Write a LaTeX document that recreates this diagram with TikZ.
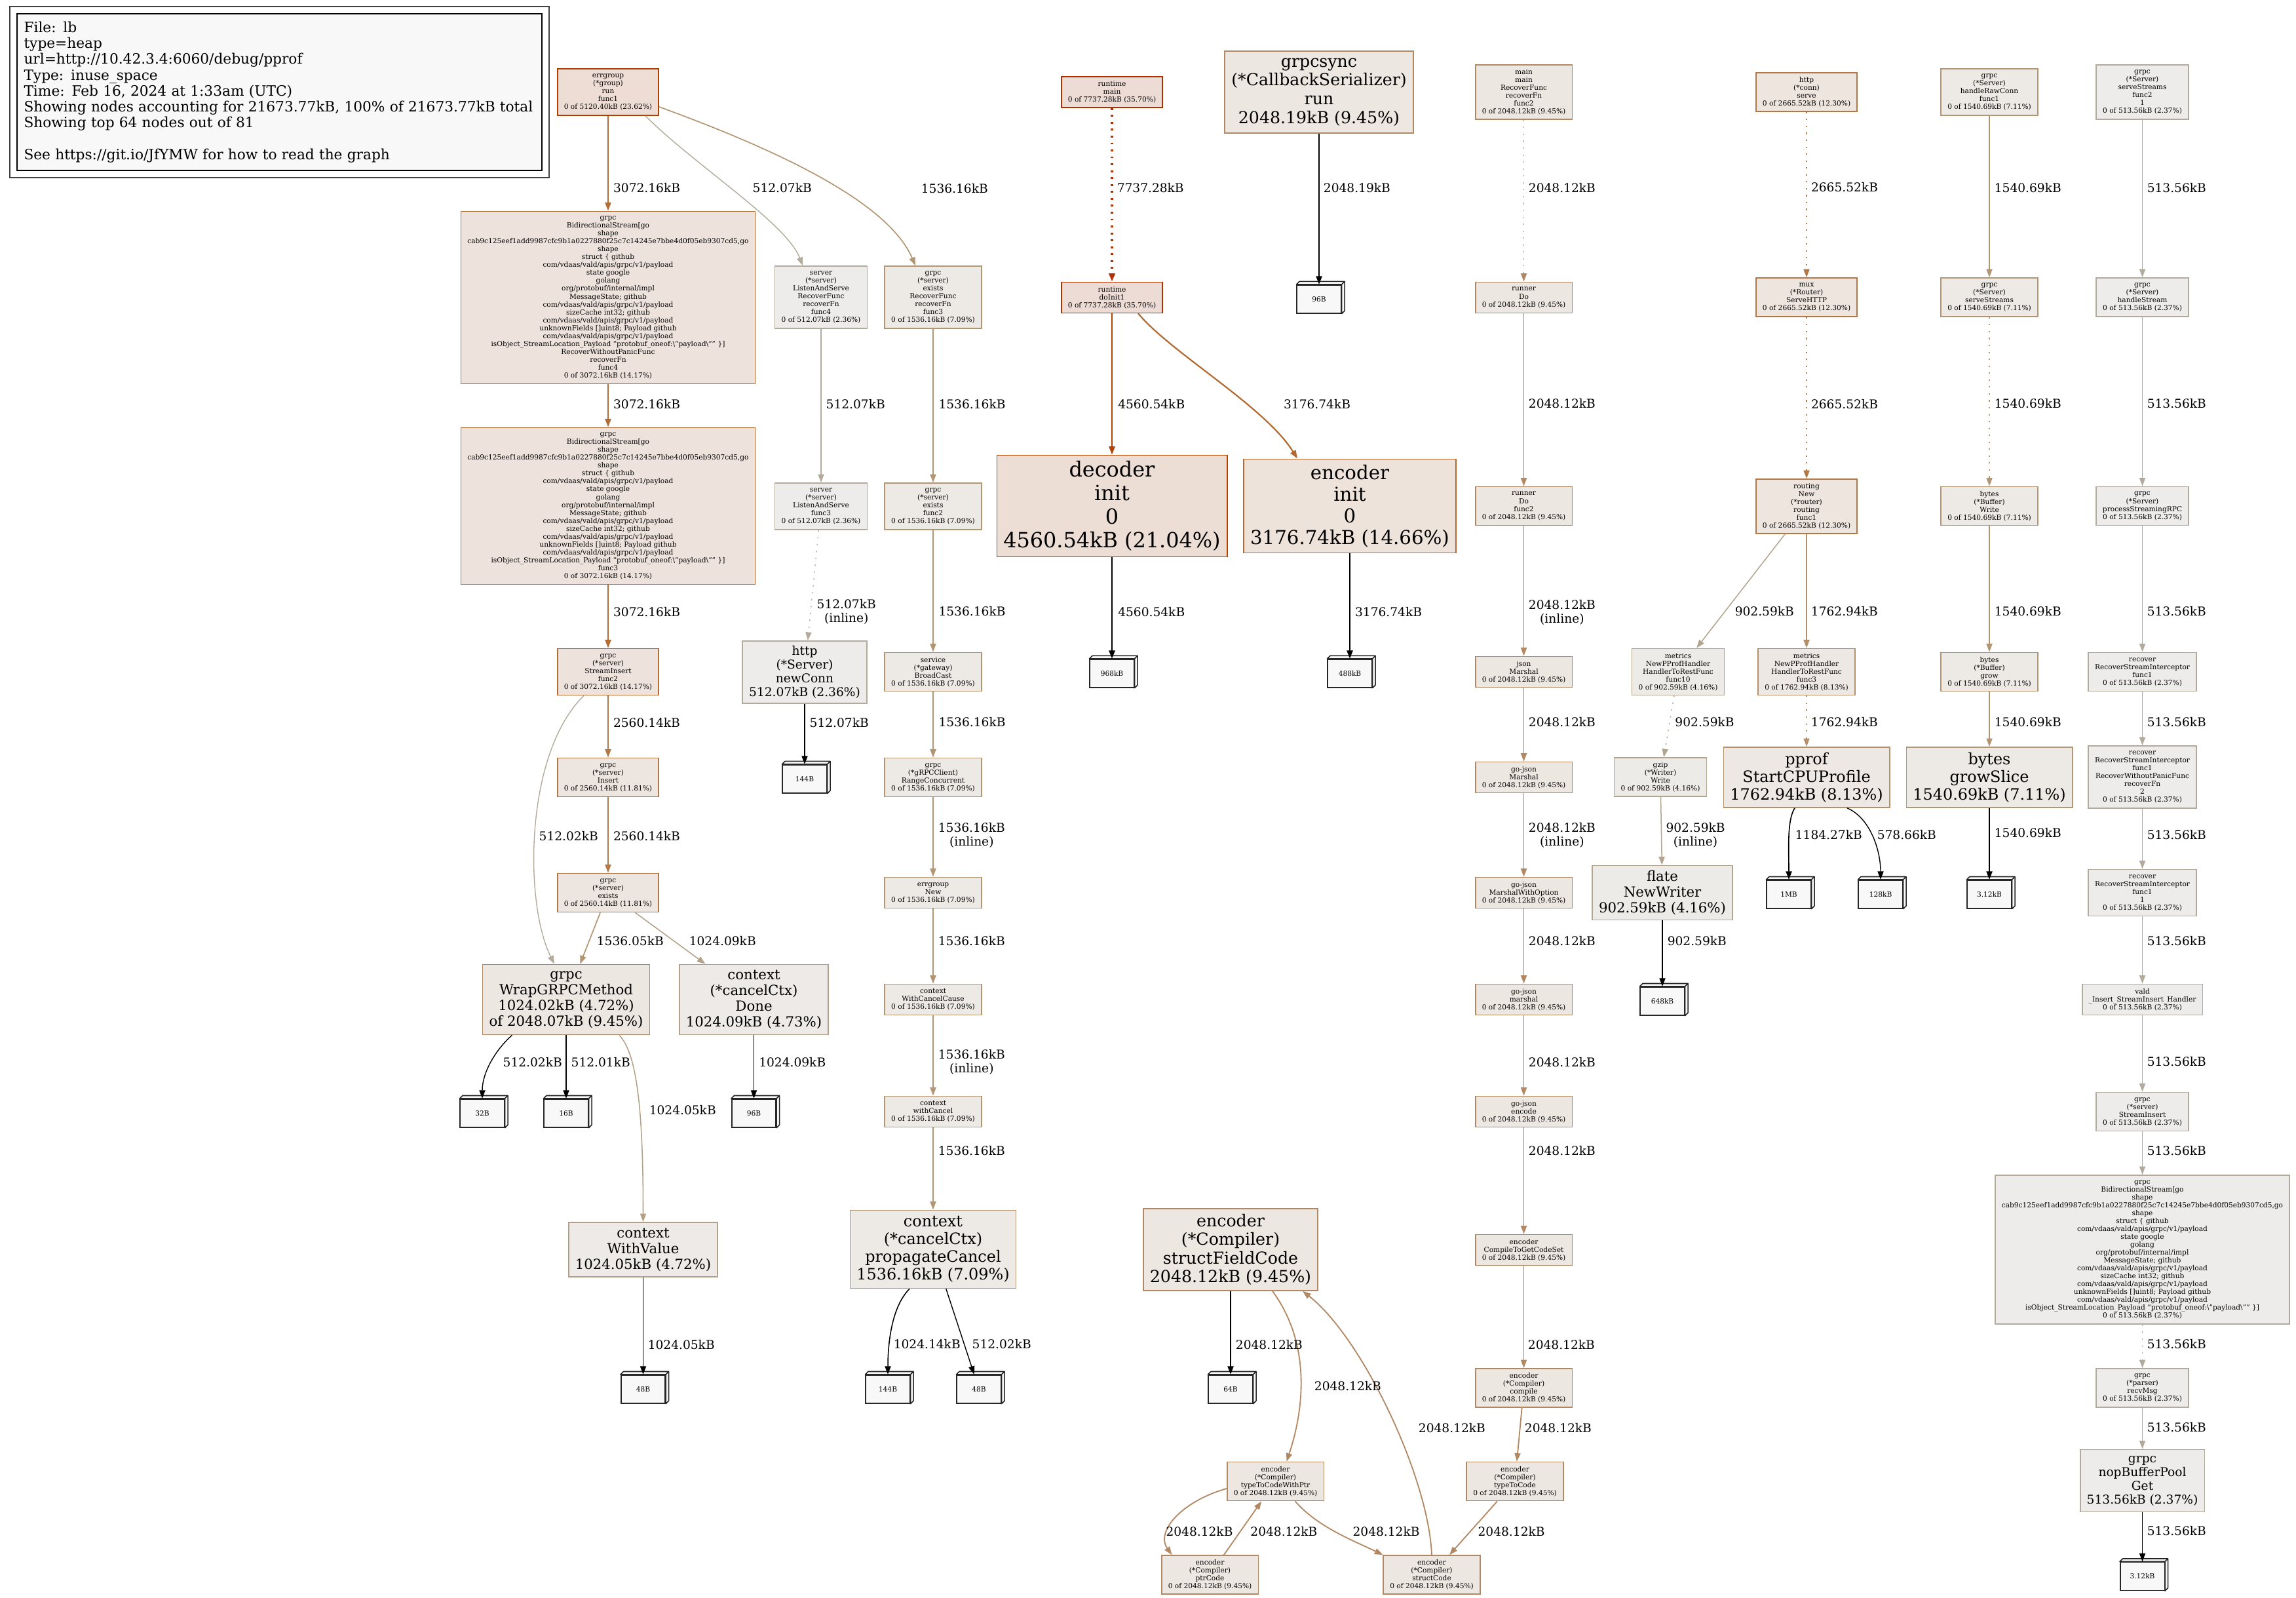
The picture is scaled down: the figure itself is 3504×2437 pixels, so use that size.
\documentclass[tikz,border=0pt]{standalone}
\usepackage{fontspec}
\setmainfont{DejaVu Serif}
\usepackage{xcolor}
\usetikzlibrary{arrows.meta,calc}

% font size in graphviz units
\newcommand{\fsz}[1]{\fontsize{\fpeval{#1*0.378}pt}{\fpeval{#1*0.4268}pt}\selectfont}

\definecolor{bg357}{HTML}{EDDBD5} \definecolor{fg357}{HTML}{B22F00}
\definecolor{bg236}{HTML}{EDDDD5} \definecolor{fg236}{HTML}{B23E00}
\definecolor{bg210}{HTML}{EDDED5} \definecolor{fg210}{HTML}{B24200}
\definecolor{bg147}{HTML}{EDE3DB} \definecolor{fg147}{HTML}{B2682F}
\definecolor{bg142}{HTML}{EDE3DC} \definecolor{fg142}{HTML}{B26C34}
\definecolor{bg123}{HTML}{EDE5DE} \definecolor{fg123}{HTML}{B27744}
\definecolor{bg118}{HTML}{EDE5DF} \definecolor{fg118}{HTML}{B27A49}
\definecolor{bg945}{HTML}{EDE7E1} \definecolor{fg945}{HTML}{B28862}
\definecolor{bg813}{HTML}{EDE8E3} \definecolor{fg813}{HTML}{B29069}
\definecolor{bg710}{HTML}{EDE9E4} \definecolor{fg710}{HTML}{B29573}
\definecolor{bg472}{HTML}{EDEAE7} \definecolor{fg472}{HTML}{B2A188}
\definecolor{bg416}{HTML}{EDEBE8} \definecolor{fg416}{HTML}{B2A48D}
\definecolor{bg237}{HTML}{EDECEA} \definecolor{fg237}{HTML}{B2AB9D}
\definecolor{leafbg}{HTML}{F8F8F8}

\tikzset{
  fn/.style={draw, align=center, line width=0.45pt, inner xsep=0.1cm, inner ysep=0pt,
    font=\fsz{8}, minimum height=#1*0.12cm+0.11cm},
  bigfn/.style 2 args={draw, align=center, line width=0.45pt, inner xsep=0.1cm, inner ysep=0pt,
    font=\fsz{#1}, minimum height=#2*#1*0.015cm+0.11cm},
  c/.style={fill=bg#1, draw=fg#1},
  leaf/.style={draw=black!85, fill=leafbg, line width=0.45pt, minimum width=0.675cm,
    minimum height=0.43cm, inner sep=0pt, font=\fsz{8}},
  leafside/.style={draw=black!85, fill=leafbg, line width=0.45pt, line join=round},
  legendbox/.style={draw=black, fill=leafbg, line width=0.5pt, font=\fontsize{6.17pt}{6.89pt}\selectfont,
    align=left, text width=7.8cm, inner xsep=0.1025cm, minimum height=2.29cm},
  e/.style={draw=fg#1, -{Triangle[length=3.6pt,width=2.6pt]}},
  le/.style={draw=black, -{Triangle[length=3.6pt,width=2.6pt]}},
  resid/.style={dash pattern=on 0.6pt off 2.4pt},
  lbl/.style={anchor=west, inner sep=0pt, font=\fsz{14}, align=center}
}

% box3d leaf: name, x, y, text
\newcommand{\heapleaf}[4]{%
  \node[leaf] (#1) at ({#2},{#3+2.25}) {#4};
  \filldraw[leafside] (#1.north west) -- ++(4.5,-4.5) -| ([shift={(4.5,-4.5)}]#1.south east)
    -- (#1.south east) -- (#1.north east) -- cycle (#1.north east) -- ++(4.5,-4.5);
}

\newcommand{\bidilines}{grpc\\BidirectionalStream[go\\shape\\cab9c125eef1add9987cfc9b1a0227880f25c7c14245e7bbe4d0f05eb9307cd5,go\\shape\\struct \{ github\\com/vdaas/vald/apis/grpc/v1/payload\\state google\\golang\\org/protobuf/internal/impl\\MessageState; github\\com/vdaas/vald/apis/grpc/v1/payload\\sizeCache int32; github\\com/vdaas/vald/apis/grpc/v1/payload\\unknownFields []uint8; Payload github\\com/vdaas/vald/apis/grpc/v1/payload\\isObject\_StreamLocation\_Payload "protobuf\_oneof:\textbackslash"payload\textbackslash"" \}]}

\begin{document}
\begin{tikzpicture}[x=0.01cm, y=-0.01cm]
\useasboundingbox (0,0) rectangle (3504,2437);

% legend
\node[legendbox] (legend) at (426.75,140.5) {File: lb\\type=heap\\url=http://10.42.3.4:6060/debug/pprof\\Type: inuse\_space\\Time: Feb 16, 2024 at 1:33am (UTC)\\Showing nodes accounting for 21673.77kB, 100\% of 21673.77kB total\\Showing top 64 nodes out of 81\\[6.89pt]See https://git.io/JfYMW for how to read the graph};
\draw[black!75, line width=0.6pt] ($(legend.north west)+(-10,-10.3)$) rectangle ($(legend.south east)+(10,10.7)$);

% StreamInsert column
\node[fn=5, c=236] (errgroup) at (928,140.5) {errgroup\\(*group)\\run\\func1\\0 of 5120.40kB (23.62\%)};
\node[fn=21, c=142] (bidiA) at (928,454) {\bidilines\\RecoverWithoutPanicFunc\\recoverFn\\func4\\0 of 3072.16kB (14.17\%)};
\node[fn=19, c=142] (bidiB) at (928,772) {\bidilines\\func3\\0 of 3072.16kB (14.17\%)};
\node[fn=5, c=142] (sinsert) at (928,1025) {grpc\\(*server)\\StreamInsert\\func2\\0 of 3072.16kB (14.17\%)};
\node[fn=4, c=118] (insert) at (928,1186) {grpc\\(*server)\\Insert\\0 of 2560.14kB (11.81\%)};
\node[fn=4, c=118] (exists) at (928,1362) {grpc\\(*server)\\exists\\0 of 2560.14kB (11.81\%)};
\node[bigfn={16}{4}, c=945] (wrap) at (864,1525) {grpc\\WrapGRPCMethod\\1024.02kB (4.72\%)\\of 2048.07kB (9.45\%)};
\node[bigfn={16}{4}, c=472] (done) at (1150.5,1525) {context\\(*cancelCtx)\\Done\\1024.09kB (4.73\%)};
\node[bigfn={16}{3}, c=472] (withvalue) at (981.5,1906.5) {context\\WithValue\\1024.05kB (4.72\%)};
\heapleaf{b32}{736}{1696}{32B}
\heapleaf{b16}{864}{1696}{16B}
\heapleaf{b96a}{1150.5}{1696}{96B}
\heapleaf{b48a}{981.5}{2117}{48B}

% ListenAndServe column
\node[fn=7, c=237] (lasfunc4) at (1253,453.5) {server\\(*server)\\ListenAndServe\\RecoverFunc\\recoverFn\\func4\\0 of 512.07kB (2.36\%)};
\node[fn=5, c=237] (lasfunc3) at (1253,772.5) {server\\(*server)\\ListenAndServe\\func3\\0 of 512.07kB (2.36\%)};
\node[bigfn={14}{4}, c=237] (newconn) at (1228,1025.5) {http\\(*Server)\\newConn\\512.07kB (2.36\%)};
\heapleaf{b144a}{1228}{1186}{144B}

% exists / broadcast column
\node[fn=7, c=710] (existsfunc3) at (1424,453.5) {grpc\\(*server)\\exists\\RecoverFunc\\recoverFn\\func3\\0 of 1536.16kB (7.09\%)};
\node[fn=5, c=710] (existsfunc2) at (1424,772.5) {grpc\\(*server)\\exists\\func2\\0 of 1536.16kB (7.09\%)};
\node[fn=4, c=710] (broadcast) at (1424,1025) {service\\(*gateway)\\BroadCast\\0 of 1536.16kB (7.09\%)};
\node[fn=4, c=710] (rangeconc) at (1424,1186) {grpc\\(*gRPCClient)\\RangeConcurrent\\0 of 1536.16kB (7.09\%)};
\node[fn=3, c=710] (egnew) at (1424,1362) {errgroup\\New\\0 of 1536.16kB (7.09\%)};
\node[fn=3, c=710] (wccause) at (1424,1525) {context\\WithCancelCause\\0 of 1536.16kB (7.09\%)};
\node[fn=3, c=710] (withcancel) at (1424,1696) {context\\withCancel\\0 of 1536.16kB (7.09\%)};
\node[bigfn={18}{4}, c=710] (propcancel) at (1424,1906) {context\\(*cancelCtx)\\propagateCancel\\1536.16kB (7.09\%)};
\heapleaf{b144b}{1355}{2117}{144B}
\heapleaf{b48b}{1494}{2117}{48B}

% runtime init
\node[fn=3, c=357] (rtmain) at (1697,140.5) {runtime\\main\\0 of 7737.28kB (35.70\%)};
\node[fn=3, c=357] (doinit) at (1697,454) {runtime\\doInit1\\0 of 7737.28kB (35.70\%)};
\node[bigfn={24}{4}, c=210] (decinit) at (1697,772) {decoder\\init\\0\\4560.54kB (21.04\%)};
\node[bigfn={22}{4}, c=147] (encinit) at (2060,772) {encoder\\init\\0\\3176.74kB (14.66\%)};
\heapleaf{b968}{1697}{1025}{968kB}
\heapleaf{b488}{2060}{1025}{488kB}
\node[bigfn={19}{4}, c=945] (grpcsync) at (2013,140.5) {grpcsync\\(*CallbackSerializer)\\run\\2048.19kB (9.45\%)};
\heapleaf{b96b}{2013}{454}{96B}

% json encoder column
\node[fn=6, c=945] (mainrec) at (2325.5,140.5) {main\\main\\RecoverFunc\\recoverFn\\func2\\0 of 2048.12kB (9.45\%)};
\node[fn=3, c=945] (runnerdo) at (2325.5,454) {runner\\Do\\0 of 2048.12kB (9.45\%)};
\node[fn=4, c=945] (runnerfunc2) at (2325.5,772) {runner\\Do\\func2\\0 of 2048.12kB (9.45\%)};
\node[fn=3, c=945] (jsonmarshal) at (2325.5,1025) {json\\Marshal\\0 of 2048.12kB (9.45\%)};
\node[fn=3, c=945] (gojson) at (2325.5,1186) {go-json\\Marshal\\0 of 2048.12kB (9.45\%)};
\node[fn=3, c=945] (marshalopt) at (2325.5,1362) {go-json\\MarshalWithOption\\0 of 2048.12kB (9.45\%)};
\node[fn=3, c=945] (gojsonm) at (2325.5,1525) {go-json\\marshal\\0 of 2048.12kB (9.45\%)};
\node[fn=3, c=945] (gojsonenc) at (2325.5,1696) {go-json\\encode\\0 of 2048.12kB (9.45\%)};
\node[fn=3, c=945] (cgcs) at (2325.5,1907) {encoder\\CompileToGetCodeSet\\0 of 2048.12kB (9.45\%)};
\node[fn=4, c=945] (compile) at (2325.5,2117.5) {encoder\\(*Compiler)\\compile\\0 of 2048.12kB (9.45\%)};
\node[fn=4, c=945] (typetocode) at (2312,2260) {encoder\\(*Compiler)\\typeToCode\\0 of 2048.12kB (9.45\%)};
\node[fn=4, c=945] (structcode) at (2185,2402.5) {encoder\\(*Compiler)\\structCode\\0 of 2048.12kB (9.45\%)};
\node[fn=4, c=945] (ttcwptr) at (1946.5,2260) {encoder\\(*Compiler)\\typeToCodeWithPtr\\0 of 2048.12kB (9.45\%)};
\node[fn=4, c=945] (ptrcode) at (1846.5,2402.5) {encoder\\(*Compiler)\\ptrCode\\0 of 2048.12kB (9.45\%)};
\node[bigfn={19}{4}, c=945] (sfc) at (1878,1906.5) {encoder\\(*Compiler)\\structFieldCode\\2048.12kB (9.45\%)};
\heapleaf{b64}{1878}{2117}{64B}

% http / pprof column
\node[fn=4, c=123] (httpserve) at (2757,140.5) {http\\(*conn)\\serve\\0 of 2665.52kB (12.30\%)};
\node[fn=4, c=123] (muxserve) at (2757,453.5) {mux\\(*Router)\\ServeHTTP\\0 of 2665.52kB (12.30\%)};
\node[fn=6, c=123] (routingnew) at (2757,772.5) {routing\\New\\(*router)\\routing\\func1\\0 of 2665.52kB (12.30\%)};
\node[fn=5, c=416] (hfunc10) at (2561,1025) {metrics\\NewPProfHandler\\HandlerToRestFunc\\func10\\0 of 902.59kB (4.16\%)};
\node[fn=5, c=813] (hfunc3) at (2757,1025) {metrics\\NewPProfHandler\\HandlerToRestFunc\\func3\\0 of 1762.94kB (8.13\%)};
\node[fn=4, c=416] (gzipwrite) at (2534,1185.5) {gzip\\(*Writer)\\Write\\0 of 902.59kB (4.16\%)};
\node[bigfn={18}{3}, c=813] (startcpu) at (2757,1186) {pprof\\StartCPUProfile\\1762.94kB (8.13\%)};
\node[bigfn={16}{3}, c=416] (flate) at (2537,1362) {flate\\NewWriter\\902.59kB (4.16\%)};
\heapleaf{b648}{2537}{1525}{648kB}
\heapleaf{b1mb}{2730}{1362}{1MB}
\heapleaf{b128k}{2870}{1362}{128kB}

% bytes column
\node[fn=5, c=710] (rawconn) at (3036,140.5) {grpc\\(*Server)\\handleRawConn\\func1\\0 of 1540.69kB (7.11\%)};
\node[fn=4, c=710] (servestreams) at (3036,453.5) {grpc\\(*Server)\\serveStreams\\0 of 1540.69kB (7.11\%)};
\node[fn=4, c=710] (bufwrite) at (3036,772) {bytes\\(*Buffer)\\Write\\0 of 1540.69kB (7.11\%)};
\node[fn=4, c=710] (bufgrow) at (3036,1025) {bytes\\(*Buffer)\\grow\\0 of 1540.69kB (7.11\%)};
\node[bigfn={18}{3}, c=710] (growslice) at (3036,1186) {bytes\\growSlice\\1540.69kB (7.11\%)};
\heapleaf{b312a}{3036}{1362}{3.12kB}

% stream server column
\node[fn=6, c=237] (ss2) at (3269.5,140.5) {grpc\\(*Server)\\serveStreams\\func2\\1\\0 of 513.56kB (2.37\%)};
\node[fn=4, c=237] (handlestream) at (3269.5,453.5) {grpc\\(*Server)\\handleStream\\0 of 513.56kB (2.37\%)};
\node[fn=4, c=237] (procrpc) at (3269.5,772) {grpc\\(*Server)\\processStreamingRPC\\0 of 513.56kB (2.37\%)};
\node[fn=4, c=237] (rsi1) at (3269.5,1025) {recover\\RecoverStreamInterceptor\\func1\\0 of 513.56kB (2.37\%)};
\node[fn=7, c=237] (rsi2) at (3269.5,1185.5) {recover\\RecoverStreamInterceptor\\func1\\RecoverWithoutPanicFunc\\recoverFn\\2\\0 of 513.56kB (2.37\%)};
\node[fn=5, c=237] (rsi3) at (3269.5,1362) {recover\\RecoverStreamInterceptor\\func1\\1\\0 of 513.56kB (2.37\%)};
\node[fn=3, c=237] (vald) at (3269.5,1525) {vald\\\_Insert\_StreamInsert\_Handler\\0 of 513.56kB (2.37\%)};
\node[fn=4, c=237] (sinsert2) at (3269.5,1696) {grpc\\(*server)\\StreamInsert\\0 of 513.56kB (2.37\%)};
\node[fn=18, c=237] (bidiC) at (3269.5,1906.5) {\bidilines\\0 of 513.56kB (2.37\%)};
\node[fn=4, c=237] (recvmsg) at (3269.5,2117.5) {grpc\\(*parser)\\recvMsg\\0 of 513.56kB (2.37\%)};
\node[bigfn={14}{4}, c=237] (nopget) at (3269.5,2259) {grpc\\nopBufferPool\\Get\\513.56kB (2.37\%)};
\heapleaf{b312b}{3269.5}{2402.5}{3.12kB}

% edges: StreamInsert column
\draw[e=142, line width=0.61pt] (errgroup) -- (bidiA) node[lbl] (l1) at (935,287) {3072.16kB};
\draw[e=237, line width=0.4pt] ($(errgroup.south)+(57,0)$) .. controls +(75,75) and +(-25,-65) .. ($(lasfunc4.north)+(-28,0)$) node[lbl] (l2) at (1148,287) {512.07kB};
\draw[e=710, line width=0.48pt] ($(errgroup.east)+(0,22.5)$) .. controls +(150,55) and +(-45,-105) .. ($(existsfunc3.north)+(-27,0)$) node[lbl] (l3) at (1405,288) {1536.16kB};
\draw[e=142, line width=0.61pt] (bidiA) -- (bidiB) node[lbl] (l4) at (935,617) {3072.16kB};
\draw[e=142, line width=0.61pt] (bidiB) -- (sinsert) node[lbl] (l5) at (935,934) {3072.16kB};
\draw[e=118, line width=0.57pt] (sinsert) -- (insert) node[lbl] (l6) at (935,1103) {2560.14kB};
\draw[e=237, line width=0.4pt] ($(sinsert.south)+(-37,0)$) .. controls +(-91,89) and +(-46,-92) .. ($(wrap.north)+(-18,0)$) node[lbl] (l7) at (822,1276) {512.02kB};
\draw[e=118, line width=0.57pt] (insert) -- (exists) node[lbl] (l8) at (935,1276) {2560.14kB};
\draw[e=710, line width=0.48pt] (exists) -- (wrap) node[lbl] (l9) at (910,1436) {1536.05kB};
\draw[e=472, line width=0.44pt] (exists) -- (done) node[lbl] (l10) at (1051,1436) {1024.09kB};
\draw[le, line width=0.4pt] ($(wrap.south)+(-82.5,0)$) .. controls +(-25,22) and +(0,-40) .. (b32.north) node[lbl] (l11) at (767,1621) {512.02kB};
\draw[le, line width=0.4pt] (wrap) -- (b16) node[lbl] (l12) at (871,1621) {512.01kB};
\draw[e=472, line width=0.44pt] ($(wrap.south)+(81,0)$) .. controls +(30,30) and +(0,-150) .. (withvalue.north) node[lbl] (l13) at (990,1694) {1024.05kB};
\draw[le, line width=0.44pt] (done) -- (b96a) node[lbl] (l14) at (1157.5,1621) {1024.09kB};
\draw[le, line width=0.44pt] (withvalue) -- (b48a) node[lbl] (l15) at (988,2052) {1024.05kB};

% edges: ListenAndServe column
\draw[e=237, line width=0.4pt] (lasfunc4) -- (lasfunc3) node[lbl] (l16) at (1260,617) {512.07kB};
\draw[e=237, resid, line width=0.4pt] (lasfunc3) -- (newconn) node[lbl] (l17) at (1246,933.5) {512.07kB\\(inline)};
\draw[le, line width=0.4pt] (newconn) -- (b144a) node[lbl] (l18) at (1235,1103) {512.07kB};

% edges: exists / broadcast column
\draw[e=710, line width=0.48pt] (existsfunc3) -- (existsfunc2) node[lbl] (l19) at (1431.7,617) {1536.16kB};
\draw[e=710, line width=0.48pt] (existsfunc2) -- (broadcast) node[lbl] (l20) at (1431.7,933) {1536.16kB};
\draw[e=710, line width=0.48pt] (broadcast) -- (rangeconc) node[lbl] (l21) at (1431.7,1102) {1536.16kB};
\draw[e=710, line width=0.48pt] (rangeconc) -- (egnew) node[lbl] (l22) at (1431,1274.5) {1536.16kB\\(inline)};
\draw[e=710, line width=0.48pt] (egnew) -- (wccause) node[lbl] (l23) at (1431,1436) {1536.16kB};
\draw[e=710, line width=0.48pt] (wccause) -- (withcancel) node[lbl] (l24) at (1431,1620.5) {1536.16kB\\(inline)};
\draw[e=710, line width=0.48pt] (withcancel) -- (propcancel) node[lbl] (l25) at (1431,1756) {1536.16kB};
\draw[le, line width=0.44pt] ($(propcancel.south)+(-36,0)$) .. controls +(-28,28) and +(0,-45) .. (b144b.north) node[lbl] (l26) at (1363,2051) {1024.14kB};
\draw[le, line width=0.4pt] (propcancel) -- (b48b) node[lbl] (l27) at (1483,2051) {512.02kB};

% edges: runtime init
\draw[e=357, line width=1pt, dash pattern=on 0.8pt off 2.2pt] (rtmain) -- (doinit) node[lbl] (l28) at (1703,287) {7737.28kB};
\draw[e=210, line width=0.73pt] (doinit) -- (decinit) node[lbl] (l29) at (1705,617) {4560.54kB};
\draw[e=147, line width=0.62pt] ($(doinit.south)+(40,0)$) .. controls +(50,60) and +(-50,-80) .. ($(encinit.north)+(-80,0)$) node[lbl] (l30) at (1958,617) {3176.74kB};
\draw[le, line width=0.73pt] (decinit) -- (b968) node[lbl] (l31) at (1705,934) {4560.54kB};
\draw[le, line width=0.62pt] (encinit) -- (b488) node[lbl] (l32) at (2067,934) {3176.74kB};
\draw[le, line width=0.52pt] (grpcsync) -- (b96b) node[lbl] (l33) at (2019,287) {2048.19kB};

% edges: json encoder column
\draw[e=945, resid, line width=0.52pt] (mainrec) -- (runnerdo) node[lbl] (l34) at (2332,287) {2048.12kB};
\draw[e=945, line width=0.52pt] (runnerdo) -- (runnerfunc2) node[lbl] (l35) at (2332,616) {2048.12kB};
\draw[e=945, line width=0.52pt] (runnerfunc2) -- (jsonmarshal) node[lbl] (l36) at (2332,934) {2048.12kB\\(inline)};
\draw[e=945, line width=0.52pt] (jsonmarshal) -- (gojson) node[lbl] (l37) at (2332,1102) {2048.12kB};
\draw[e=945, line width=0.52pt] (gojson) -- (marshalopt) node[lbl] (l38) at (2332,1274.5) {2048.12kB\\(inline)};
\draw[e=945, line width=0.52pt] (marshalopt) -- (gojsonm) node[lbl] (l39) at (2332,1436) {2048.12kB};
\draw[e=945, line width=0.52pt] (gojsonm) -- (gojsonenc) node[lbl] (l40) at (2332,1621) {2048.12kB};
\draw[e=945, line width=0.52pt] (gojsonenc) -- (cgcs) node[lbl] (l41) at (2332,1756) {2048.12kB};
\draw[e=945, line width=0.52pt] (cgcs) -- (compile) node[lbl] (l42) at (2331,2052) {2048.12kB};
\draw[e=945, line width=0.52pt] (compile) -- (typetocode) node[lbl] (l43) at (2326,2179) {2048.12kB};
\draw[e=945, line width=0.52pt] (typetocode) -- (structcode) node[lbl] (l44) at (2254.7,2337) {2048.12kB};
\draw[e=945, line width=0.52pt] (structcode.north) .. controls +(-5,-120) and +(90,70) .. ($(sfc.south)+(110,0)$) node[lbl] (l45) at (2164,2179) {2048.12kB};
\draw[e=945, line width=0.52pt] ($(sfc.south)+(64,0)$) .. controls +(55,75) and +(30,-90) .. ($(ttcwptr.north)+(17,0)$) node[lbl] (l46) at (2005,2115) {2048.12kB};
\draw[e=945, line width=0.52pt] ($(ttcwptr.west)+(0,11)$) .. controls +(-70,20) and +(-25,-35) .. ($(ptrcode.north)+(-58,0)$) node[lbl] (l47) at (1778.6,2337) {2048.12kB};
\draw[e=945, line width=0.52pt] (ptrcode) -- (ttcwptr) node[lbl] (l48) at (1907.5,2337) {2048.12kB};
\draw[e=945, line width=0.52pt] ($(ttcwptr.south)+(30,0)$) .. controls +(35,40) and +(-45,-22) .. (structcode.north west) node[lbl] (l49) at (2063.7,2337) {2048.12kB};
\draw[le, line width=0.52pt] (sfc) -- (b64) node[lbl] (l50) at (1885,2052) {2048.12kB};

% edges: http / pprof column
\draw[e=123, resid, line width=0.57pt] (httpserve) -- (muxserve) node[lbl] (l51) at (2763,285.6) {2665.52kB};
\draw[e=123, resid, line width=0.57pt] (muxserve) -- (routingnew) node[lbl] (l52) at (2763,616.5) {2665.52kB};
\draw[e=416, line width=0.43pt] (routingnew) -- (hfunc10) node[lbl] (l53) at (2647,932.4) {902.59kB};
\draw[e=813, line width=0.5pt] (routingnew) -- (hfunc3) node[lbl] (l54) at (2763,932.4) {1762.94kB};
\draw[e=416, resid, line width=0.43pt] (hfunc10) -- (gzipwrite) node[lbl] (l55) at (2555.7,1101.6) {902.59kB};
\draw[e=813, resid, line width=0.5pt] (hfunc3) -- (startcpu) node[lbl] (l56) at (2763,1102) {1762.94kB};
\draw[e=416, line width=0.43pt] (gzipwrite) -- (flate) node[lbl] (l57) at (2541.7,1274.5) {902.59kB\\(inline)};
\draw[le, line width=0.43pt] (flate) -- (b648) node[lbl] (l58) at (2544,1436) {902.59kB};
\draw[le, line width=0.46pt] ($(startcpu.south)+(-18,0)$) .. controls +(-12,18) and +(0,-45) .. (b1mb.north) node[lbl] (l59) at (2739,1274) {1184.27kB};
\draw[le, line width=0.4pt] ($(startcpu.south)+(62,0)$) .. controls +(35,15) and +(0,-45) .. (b128k.north) node[lbl] (l60) at (2864,1274) {578.66kB};

% edges: bytes column
\draw[e=710, line width=0.48pt] (rawconn) -- (servestreams) node[lbl] (l61) at (3043,287) {1540.69kB};
\draw[e=710, resid, line width=0.48pt] (servestreams) -- (bufwrite) node[lbl] (l62) at (3043,616) {1540.69kB};
\draw[e=710, line width=0.48pt] (bufwrite) -- (bufgrow) node[lbl] (l63) at (3043,933) {1540.69kB};
\draw[e=710, line width=0.48pt] (bufgrow) -- (growslice) node[lbl] (l64) at (3043,1102) {1540.69kB};
\draw[le, line width=0.48pt] (growslice) -- (b312a) node[lbl] (l65) at (3043,1271) {1540.69kB};

% edges: stream server column
\draw[e=237, line width=0.4pt] (ss2) -- (handlestream) node[lbl] (l66) at (3276,287) {513.56kB};
\draw[e=237, line width=0.4pt] (handlestream) -- (procrpc) node[lbl] (l67) at (3276,616) {513.56kB};
\draw[e=237, line width=0.4pt] (procrpc) -- (rsi1) node[lbl] (l68) at (3276,933) {513.56kB};
\draw[e=237, line width=0.4pt] (rsi1) -- (rsi2) node[lbl] (l69) at (3276,1102) {513.56kB};
\draw[e=237, line width=0.4pt] (rsi2) -- (rsi3) node[lbl] (l70) at (3276,1274) {513.56kB};
\draw[e=237, line width=0.4pt] (rsi3) -- (vald) node[lbl] (l71) at (3276,1436) {513.56kB};
\draw[e=237, line width=0.4pt] (vald) -- (sinsert2) node[lbl] (l72) at (3276,1620) {513.56kB};
\draw[e=237, line width=0.4pt] (sinsert2) -- (bidiC) node[lbl] (l73) at (3276,1756) {513.56kB};
\draw[e=237, resid, line width=0.4pt] (bidiC) -- (recvmsg) node[lbl] (l74) at (3276,2051) {513.56kB};
\draw[e=237, line width=0.4pt] (recvmsg) -- (nopget) node[lbl] (l75) at (3276,2178) {513.56kB};
\draw[le, line width=0.4pt] (nopget) -- (b312b) node[lbl] (l76) at (3276,2336) {513.56kB};
\end{tikzpicture}
\end{document}
